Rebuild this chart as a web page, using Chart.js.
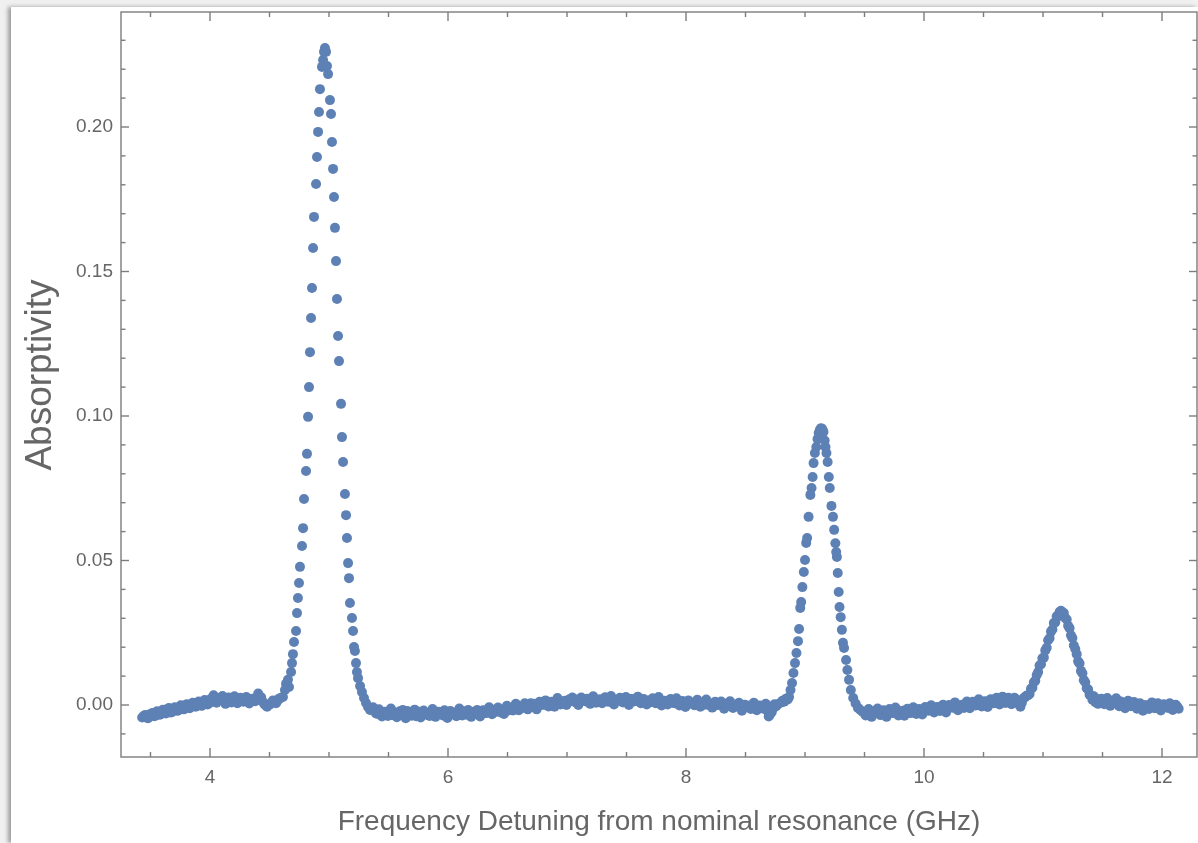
<!DOCTYPE html>
<html>
<head>
<meta charset="utf-8">
<script src="https://cdn.jsdelivr.net/npm/chart.js@4.4.1/dist/chart.umd.min.js"></script>
<style>
  html, body { margin:0; padding:0; width:1198px; height:843px; overflow:hidden; background:#f0f0f0; }
  #panel { position:absolute; left:11px; top:7px; right:0; bottom:0; background:#ffffff;
           box-shadow:-3px 0 4px rgba(0,0,0,0.35); }
  #c { position:absolute; left:0; top:0; }
</style>
</head>
<body>
<div id="panel"></div>
<canvas id="c" width="1198" height="843"></canvas>
<script>
// ---- data: [frequency detuning (GHz), absorptivity] ----
const baselineLow = [
  [3.430,-0.0043],[3.455,-0.0035],[3.480,-0.0046],[3.505,-0.0030],[3.530,-0.0039],[3.555,-0.0022],
  [3.580,-0.0034],[3.605,-0.0016],[3.630,-0.0029],[3.655,-0.0010],[3.680,-0.0025],[3.705,-0.0008],
  [3.730,-0.0020],[3.755,-0.0001],[3.780,-0.0015],[3.805,0.0003],[3.830,-0.0011],[3.855,0.0008],
  [3.880,-0.0006],[3.905,0.0012],[3.930,-0.0003],[3.955,0.0017],[3.980,0.0002],[4.005,0.0021],
  [4.030,0.0034],[4.055,0.0008],[4.080,0.0024],[4.105,0.0031],[4.130,0.0004],[4.155,0.0026],
  [4.180,0.0009],[4.205,0.0030],[4.230,0.0006],[4.255,0.0025],[4.280,0.0011],[4.305,0.0028],
  [4.330,0.0005],[4.355,0.0022],[4.380,0.0013],[4.405,0.0040],[4.430,0.0027],[4.455,0.0004],
  [4.480,-0.0006],[4.505,0.0002],[4.530,0.0016],[4.555,0.0006],[4.580,0.0022]
];
const baselineLowB = [
  [3.4425,-0.0038],[3.4675,-0.0044],[3.4925,-0.0033],[3.5175,-0.0028],[3.5425,-0.0037],[3.5675,-0.0024],
  [3.5925,-0.0029],[3.6175,-0.0020],[3.6425,-0.0017],[3.6675,-0.0026],[3.6925,-0.0013],[3.7175,-0.0019],
  [3.7425,-0.0008],[3.7675,-0.0014],[3.7925,-0.0003],[3.8175,-0.0009],[3.8425,0.0002],[3.8675,-0.0002],
  [3.8925,0.0006],[3.9175,0.0001],[3.9425,0.0009],[3.9675,0.0013],[3.9925,0.0006],[4.0175,0.0012],
  [4.0425,0.0019],[4.0675,0.0014],[4.0925,0.0020],[4.1175,0.0012],[4.1425,0.0021],[4.1675,0.0016],
  [4.1925,0.0013],[4.2175,0.0020],[4.2425,0.0015],[4.2675,0.0021],[4.2925,0.0014],[4.3175,0.0019],
  [4.3425,0.0013],[4.3675,0.0020],[4.3925,0.0026],[4.4175,0.0018],[4.4425,0.0012],[4.4675,-0.0002],
  [4.4925,0.0001],[4.5175,0.0009],[4.5425,0.0013],[4.5675,0.0015],[4.5925,0.0024]
];
const peakMain = [
  [4.613,0.0028],[4.630,0.0052],[4.639,0.0073],[4.655,0.0087],[4.664,0.0062],[4.681,0.0114],
  [4.689,0.0145],[4.697,0.0176],[4.706,0.0218],[4.723,0.0256],[4.731,0.0318],[4.739,0.0370],
  [4.748,0.0422],[4.756,0.0478],[4.773,0.0550],[4.782,0.0612],[4.790,0.0713],[4.807,0.0810],
  [4.815,0.0869],[4.824,0.0997],[4.832,0.1100],[4.840,0.1221],[4.849,0.1339],[4.857,0.1443],
  [4.866,0.1581],[4.874,0.1689],[4.891,0.1803],[4.899,0.1896],[4.908,0.1983],[4.916,0.2052],
  [4.924,0.2131],[4.941,0.2208],[4.950,0.2232],[4.958,0.2260],[4.966,0.2273],[4.975,0.2260],
  [4.983,0.2211],[4.992,0.2183],[5.008,0.2093],[5.017,0.2045],[5.025,0.1948],[5.034,0.1855],
  [5.042,0.1758],[5.050,0.1651],[5.059,0.1536],[5.067,0.1405],[5.076,0.1277],[5.084,0.1190],
  [5.101,0.1042],[5.109,0.0927],[5.118,0.0841],[5.134,0.0730],[5.143,0.0657],[5.151,0.0578],
  [5.160,0.0491],[5.168,0.0439],[5.176,0.0353],[5.193,0.0301],[5.202,0.0256],[5.210,0.0201],
  [5.218,0.0187],[5.227,0.0145],[5.235,0.0114],[5.244,0.0093],[5.261,0.0066],[5.277,0.0045],
  [5.294,0.0024],[5.311,0.0007],[5.328,-0.0007],[5.345,-0.0017]
];
const baselineMid = [
  [5.370,-0.0008],[5.395,-0.0029],[5.420,-0.0015],[5.445,-0.0040],[5.470,-0.0023],[5.495,-0.0038],
  [5.520,-0.0012],[5.545,-0.0031],[5.570,-0.0042],[5.595,-0.0022],[5.620,-0.0017],[5.645,-0.0046],
  [5.670,-0.0024],[5.695,-0.0037],[5.720,-0.0016],[5.745,-0.0033],[5.770,-0.0043],[5.795,-0.0019],
  [5.820,-0.0028],[5.845,-0.0038],[5.870,-0.0014],[5.895,-0.0041],[5.920,-0.0023],[5.945,-0.0032],
  [5.970,-0.0018],[5.995,-0.0045],[6.020,-0.0021],[6.045,-0.0027],[6.070,-0.0039],[6.095,-0.0012],
  [6.120,-0.0036],[6.145,-0.0030],[6.170,-0.0017],[6.195,-0.0041],[6.220,-0.0023],[6.245,-0.0017],
  [6.270,-0.0040],[6.295,-0.0018],[6.320,-0.0028],[6.345,-0.0008],[6.370,-0.0032],[6.395,-0.0017],
  [6.420,-0.0009],[6.445,-0.0026],[6.470,-0.0031],[6.495,-0.0003],[6.520,-0.0014],[6.545,-0.0019],
  [6.570,0.0004],[6.595,-0.0018],[6.620,-0.0010],[6.645,0.0006],[6.670,-0.0015],[6.695,0.0006],
  [6.720,0.0004],[6.745,-0.0015],[6.770,0.0011],[6.795,0.0001],[6.820,0.0016],[6.845,-0.0005],
  [6.870,0.0011],[6.895,-0.0006],[6.920,0.0024],[6.945,0.0002],[6.970,0.0012],[6.995,0.0000],
  [7.020,0.0020],[7.045,0.0026],[7.070,0.0010],[7.095,0.0000],[7.120,0.0026],[7.145,0.0015],
  [7.170,0.0022],[7.195,0.0004],[7.220,0.0030],[7.245,0.0008],[7.270,0.0019],[7.295,0.0006],
  [7.320,0.0027],[7.345,0.0011],[7.370,0.0031],[7.395,0.0002],[7.420,0.0017],[7.445,0.0025],
  [7.470,0.0009],[7.495,0.0028],[7.520,0.0000],[7.545,0.0021],[7.570,0.0013],[7.595,0.0029],
  [7.620,0.0006],[7.645,0.0021],[7.670,0.0002],[7.695,0.0015],[7.720,0.0023],[7.745,0.0006],
  [7.770,0.0028],[7.795,-0.0002],[7.820,0.0015],[7.845,0.0002],[7.870,0.0021],[7.895,0.0007],
  [7.920,0.0023],[7.945,-0.0002],[7.970,0.0014],[7.995,-0.0007],[8.020,0.0016],[8.045,0.0008],
  [8.070,-0.0001],[8.095,0.0018],[8.120,-0.0006],[8.145,0.0008],[8.170,0.0019],[8.195,-0.0001],
  [8.220,-0.0009],[8.245,0.0011],[8.270,0.0001],[8.295,0.0012],[8.320,-0.0013],[8.345,0.0005],
  [8.370,0.0013],[8.395,-0.0010],[8.420,-0.0005],[8.445,0.0008],[8.470,-0.0020],[8.495,0.0001],
  [8.520,-0.0003],[8.545,-0.0014],[8.570,0.0008],[8.595,-0.0018],[8.620,-0.0002],[8.645,-0.0012],
  [8.670,0.0004],[8.695,-0.0040],[8.720,-0.0025],[8.745,0.0003],[8.770,0.0002]
];
const baselineMidB = [
  [5.3825,-0.0021],[5.4075,-0.0030],[5.4325,-0.0024],[5.4575,-0.0033],[5.4825,-0.0028],[5.5075,-0.0022],
  [5.5325,-0.0035],[5.5575,-0.0026],[5.5825,-0.0031],[5.6075,-0.0027],[5.6325,-0.0034],[5.6575,-0.0021],
  [5.6825,-0.0030],[5.7075,-0.0026],[5.7325,-0.0039],[5.7575,-0.0023],[5.7825,-0.0032],[5.8075,-0.0025],
  [5.8325,-0.0035],[5.8575,-0.0029],[5.8825,-0.0022],[5.9075,-0.0031],[5.9325,-0.0027],[5.9575,-0.0036],
  [5.9825,-0.0024],[6.0075,-0.0031],[6.0325,-0.0026],[6.0575,-0.0033],[6.0825,-0.0025],[6.1075,-0.0030],
  [6.1325,-0.0022],[6.1575,-0.0034],[6.1825,-0.0028],[6.2075,-0.0031],[6.2325,-0.0024],[6.2575,-0.0029],
  [6.2825,-0.0021],[6.3075,-0.0027],[6.3325,-0.0019],[6.3575,-0.0025],[6.3825,-0.0016],[6.4075,-0.0023],
  [6.4325,-0.0015],[6.4575,-0.0020],[6.4825,-0.0012],[6.5075,-0.0019],[6.5325,-0.0010],[6.5575,-0.0016],
  [6.5825,-0.0007],[6.6075,-0.0012],[6.6325,-0.0004],[6.6575,-0.0009],[6.6825,0.0000],[6.7075,-0.0005],
  [6.7325,0.0002],[6.7575,-0.0003],[6.7825,0.0005],[6.8075,0.0001],[6.8325,0.0008],[6.8575,0.0003],
  [6.8825,0.0010],[6.9075,0.0004],[6.9325,0.0012],[6.9575,0.0007],[6.9825,0.0015],[7.0075,0.0009],
  [7.0325,0.0016],[7.0575,0.0012],[7.0825,0.0019],[7.1075,0.0013],[7.1325,0.0020],[7.1575,0.0012],
  [7.1825,0.0018],[7.2075,0.0014],[7.2325,0.0021],[7.2575,0.0013],[7.2825,0.0019],[7.3075,0.0015],
  [7.3325,0.0022],[7.3575,0.0012],[7.3825,0.0018],[7.4075,0.0014],[7.4325,0.0020],[7.4575,0.0013],
  [7.4825,0.0019],[7.5075,0.0015],[7.5325,0.0021],[7.5575,0.0012],[7.5825,0.0017],[7.6075,0.0014],
  [7.6325,0.0019],[7.6575,0.0011],[7.6825,0.0016],[7.7075,0.0010],[7.7325,0.0015],[7.7575,0.0009],
  [7.7825,0.0014],[7.8075,0.0008],[7.8325,0.0013],[7.8575,0.0007],[7.8825,0.0012],[7.9075,0.0006],
  [7.9325,0.0011],[7.9575,0.0005],[7.9825,0.0010],[8.0075,0.0004],[8.0325,0.0009],[8.0575,0.0003],
  [8.0825,0.0008],[8.1075,0.0002],[8.1325,0.0007],[8.1575,0.0001],[8.1825,0.0006],[8.2075,0.0000],
  [8.2325,0.0005],[8.2575,-0.0001],[8.2825,0.0004],[8.3075,-0.0002],[8.3325,0.0003],[8.3575,-0.0003],
  [8.3825,0.0002],[8.4075,-0.0004],[8.4325,0.0000],[8.4575,-0.0006],[8.4825,-0.0002],[8.5075,-0.0007],
  [8.5325,-0.0003],[8.5575,-0.0009],[8.5825,-0.0004],[8.6075,-0.0010],[8.6325,-0.0005],[8.6575,-0.0011],
  [8.6825,-0.0020],[8.7075,-0.0032],[8.7325,-0.0012],[8.7575,-0.0004]
];
const peakSecond = [
  [8.795,0.0008],[8.810,0.0015],[8.825,0.0011],[8.840,0.0022],[8.855,0.0019],[8.866,0.0028],
  [8.878,0.0052],[8.891,0.0076],[8.903,0.0111],[8.916,0.0145],[8.928,0.0180],[8.941,0.0221],
  [8.950,0.0263],[8.960,0.0336],[8.968,0.0356],[8.978,0.0408],[8.990,0.0460],[9.000,0.0502],
  [9.010,0.0561],[9.018,0.0578],[9.030,0.0651],[9.045,0.0727],[9.055,0.0751],[9.064,0.0789],
  [9.072,0.0837],[9.083,0.0872],[9.095,0.0893],[9.105,0.0920],[9.115,0.0941],[9.125,0.0952],
  [9.135,0.0958],[9.145,0.0955],[9.155,0.0945],[9.165,0.0915],[9.172,0.0893],[9.180,0.0872],
  [9.190,0.0841],[9.200,0.0789],[9.208,0.0751],[9.222,0.0689],[9.235,0.0651],[9.245,0.0606],
  [9.255,0.0560],[9.262,0.0529],[9.268,0.0512],[9.275,0.0457],[9.283,0.0391],[9.290,0.0339],
  [9.300,0.0304],[9.310,0.0260],[9.319,0.0215],[9.328,0.0197],[9.345,0.0156],[9.356,0.0121],
  [9.370,0.0087],[9.385,0.0052],[9.405,0.0024],[9.425,0.0005],[9.445,-0.0010],[9.465,-0.0017],
  [9.485,-0.0024]
];
const baselineHigh = [
  [9.510,-0.0036],[9.535,-0.0014],[9.560,-0.0041],[9.585,-0.0022],[9.610,-0.0012],[9.635,-0.0035],
  [9.660,-0.0018],[9.685,-0.0041],[9.710,-0.0014],[9.735,-0.0028],[9.760,-0.0009],[9.785,-0.0036],
  [9.810,-0.0021],[9.835,-0.0037],[9.860,-0.0013],[9.885,-0.0028],[9.910,-0.0008],[9.935,-0.0031],
  [9.960,-0.0014],[9.985,-0.0033],[10.010,-0.0007],[10.035,-0.0020],[10.060,-0.0001],[10.085,-0.0026],
  [10.110,-0.0007],[10.135,-0.0021],[10.160,0.0001],[10.185,-0.0026],[10.210,0.0000],[10.235,-0.0009],
  [10.260,0.0009],[10.285,-0.0018],[10.310,-0.0001],[10.335,-0.0010],[10.360,0.0012],[10.385,-0.0011],
  [10.410,0.0011],[10.435,-0.0002],[10.460,0.0020],[10.485,-0.0005],[10.510,0.0013],[10.535,-0.0007],
  [10.560,0.0020],[10.585,0.0006],[10.610,0.0025],[10.635,0.0002],[10.660,0.0029],[10.685,0.0007],
  [10.710,0.0025],[10.735,0.0003],[10.760,0.0025],[10.785,0.0013],[10.810,-0.0006],[10.835,0.0023],
  [10.860,0.0032]
];
const baselineHighB = [
  [9.4975,-0.0026],[9.5225,-0.0029],[9.5475,-0.0023],[9.5725,-0.0031],[9.5975,-0.0025],[9.6225,-0.0028],
  [9.6475,-0.0022],[9.6725,-0.0030],[9.6975,-0.0024],[9.7225,-0.0021],[9.7475,-0.0027],[9.7725,-0.0019],
  [9.7975,-0.0026],[9.8225,-0.0020],[9.8475,-0.0028],[9.8725,-0.0018],[9.8975,-0.0024],[9.9225,-0.0016],
  [9.9475,-0.0022],[9.9725,-0.0017],[9.9975,-0.0021],[10.0225,-0.0013],[10.0475,-0.0018],[10.0725,-0.0011],
  [10.0975,-0.0016],[10.1225,-0.0009],[10.1475,-0.0014],[10.1725,-0.0006],[10.1975,-0.0012],[10.2225,-0.0004],
  [10.2475,-0.0009],[10.2725,-0.0002],[10.2975,-0.0007],[10.3225,0.0001],[10.3475,-0.0004],[10.3725,0.0004],
  [10.3975,-0.0001],[10.4225,0.0006],[10.4475,0.0001],[10.4725,0.0008],[10.4975,0.0004],[10.5225,0.0011],
  [10.5475,0.0006],[10.5725,0.0013],[10.5975,0.0008],[10.6225,0.0014],[10.6475,0.0010],[10.6725,0.0017],
  [10.6975,0.0012],[10.7225,0.0018],[10.7475,0.0013],[10.7725,0.0019],[10.7975,0.0004],[10.8225,0.0008],
  [10.8475,0.0026]
];
const peakThird = [
  [10.875,0.0034],[10.887,0.0038],[10.899,0.0056],[10.911,0.0060],[10.923,0.0079],[10.935,0.0084],
  [10.947,0.0104],[10.959,0.0114],[10.971,0.0137],[10.983,0.0141],[10.995,0.0162],[11.007,0.0164],
  [11.019,0.0189],[11.031,0.0198],[11.043,0.0224],[11.055,0.0231],[11.067,0.0254],[11.079,0.0261],
  [11.091,0.0284],[11.103,0.0286],[11.115,0.0307],[11.127,0.0306],[11.139,0.0322],[11.151,0.0326],
  [11.163,0.0320],[11.175,0.0318],[11.187,0.0301],[11.199,0.0296],[11.211,0.0274],[11.223,0.0266],
  [11.235,0.0241],[11.247,0.0232],[11.259,0.0206],[11.271,0.0194],[11.283,0.0176],[11.295,0.0151],
  [11.307,0.0144],[11.319,0.0118],[11.331,0.0110],[11.343,0.0086],[11.355,0.0079],[11.367,0.0058],
  [11.379,0.0054],[11.391,0.0036],[11.403,0.0034],[11.415,0.0018],[11.427,0.0030],[11.439,0.0010],
  [11.451,0.0020],[11.463,0.0004],[11.475,0.0014]
];
const baselineEnd = [
  [11.490,0.0022],[11.515,0.0003],[11.540,0.0024],[11.565,-0.0003],[11.590,0.0014],[11.615,0.0023],
  [11.640,-0.0004],[11.665,0.0009],[11.690,-0.0011],[11.715,0.0015],[11.740,-0.0004],[11.765,0.0010],
  [11.790,-0.0013],[11.815,0.0006],[11.840,-0.0020],[11.865,-0.0001],[11.890,-0.0014],[11.915,0.0009],
  [11.940,-0.0011],[11.965,0.0006],[11.990,-0.0019],[12.015,0.0003],[12.040,-0.0008],[12.065,0.0006],
  [12.090,-0.0017],[12.115,0.0001],[12.140,-0.0013]
];
const baselineEndB = [
  [11.5025,0.0013],[11.5275,0.0009],[11.5525,0.0016],[11.5775,0.0006],[11.6025,0.0010],[11.6275,0.0004],
  [11.6525,0.0012],[11.6775,0.0002],[11.7025,0.0007],[11.7275,0.0000],[11.7525,0.0005],[11.7775,-0.0003],
  [11.8025,0.0002],[11.8275,-0.0006],[11.8525,-0.0001],[11.8775,-0.0008],[11.9025,-0.0003],[11.9275,-0.0001],
  [11.9525,-0.0007],[11.9775,-0.0002],[12.0025,-0.0009],[12.0275,-0.0003],[12.0525,-0.0010],[12.0775,-0.0004],
  [12.1025,-0.0008],[12.1275,-0.0005]
];

// ---- axes ----
const xTickValues = [4, 6, 8, 10, 12];
const xTickLabels = ['4', '6', '8', '10', '12'];
const xMinorTicks = [3.5,4,4.5,5,5.5,6,6.5,7,7.5,8,8.5,9,9.5,10,10.5,11,11.5,12];
const yTickValues = [0, 0.05, 0.10, 0.15, 0.20];
const yTickLabels = ['0.00', '0.05', '0.10', '0.15', '0.20'];
const yMinorTicks = [-0.01,0,0.01,0.02,0.03,0.04,0.05,0.06,0.07,0.08,0.09,0.10,0.11,0.12,
                     0.13,0.14,0.15,0.16,0.17,0.18,0.19,0.20,0.21,0.22,0.23];
const xTitle = 'Frequency Detuning from nominal resonance (GHz)';
const yTitle = 'Absorptivity';

const FONT = '"Liberation Sans", Arial, Helvetica, sans-serif';
const TEXT = '#666666';
const FRAME = '#7d7d7d';

const points = [].concat(baselineLow, baselineLowB, peakMain, baselineMid, baselineMidB, peakSecond,
                         baselineHigh, baselineHighB, peakThird, baselineEnd, baselineEndB)
  .map(p => ({ x: p[0], y: p[1] }));

const framePlugin = {
  id: 'mmaFrame',
  afterDraw(chart) {
    const { ctx, chartArea: { left, right, top, bottom }, scales: { x, y } } = chart;
    ctx.save();
    ctx.strokeStyle = FRAME;
    ctx.lineWidth = 1.4;
    ctx.strokeRect(left, top, right - left, bottom - top);
    const seg = (x1, y1, x2, y2) => { ctx.beginPath(); ctx.moveTo(x1, y1); ctx.lineTo(x2, y2); ctx.stroke(); };
    xMinorTicks.forEach(v => {
      const p = x.getPixelForValue(v);
      const L = xTickValues.includes(v) ? 9 : 5;
      seg(p, bottom, p, bottom - L);
      seg(p, top, p, top + L);
    });
    yMinorTicks.forEach(v => {
      const p = y.getPixelForValue(v);
      const L = yTickValues.some(t => Math.abs(t - v) < 1e-9) ? 8 : 4.5;
      seg(left, p, left + L, p);
      seg(right, p, right - L, p);
    });
    // vertical axis title
    ctx.fillStyle = TEXT;
    ctx.font = '37px ' + FONT;
    ctx.textAlign = 'center';
    ctx.textBaseline = 'middle';
    ctx.translate(41, (top + bottom) / 2 - 9.5);
    ctx.rotate(-Math.PI / 2);
    ctx.fillText(yTitle, 0, 0);
    ctx.restore();
  }
};

new Chart(document.getElementById('c'), {
  type: 'scatter',
  data: {
    datasets: [{
      data: points,
      backgroundColor: '#5e81b5',
      borderWidth: 0,
      pointRadius: 5,
      pointHoverRadius: 5
    }]
  },
  options: {
    responsive: false,
    animation: false,
    devicePixelRatio: 1,
    events: [],
    layout: { autoPadding: false, padding: { top: 12, right: 1, left: 0, bottom: 0 } },
    plugins: { legend: { display: false }, tooltip: { enabled: false } },
    scales: {
      x: {
        type: 'linear',
        min: 3.2521,
        max: 12.294,
        afterBuildTicks: s => { s.ticks = xTickValues.map(v => ({ value: v })); },
        afterFit: s => { s.height = 86; s.paddingLeft = 0; s.paddingRight = 0; },
        grid: { display: false, drawTicks: false },
        border: { display: false },
        ticks: {
          padding: 9,
          color: TEXT,
          font: { size: 19, family: FONT },
          maxRotation: 0,
          callback: v => xTickLabels[xTickValues.indexOf(v)]
        },
        title: {
          display: true,
          text: xTitle,
          color: TEXT,
          font: { size: 28, family: FONT },
          padding: { top: 0, bottom: 4 }
        }
      },
      y: {
        type: 'linear',
        min: -0.01799,
        max: 0.23979,
        afterBuildTicks: s => { s.ticks = yTickValues.map(v => ({ value: v })); },
        afterFit: s => { s.width = 121; s.paddingTop = 0; s.paddingBottom = 0; },
        grid: { display: false, drawTicks: false },
        border: { display: false },
        ticks: {
          padding: 8,
          color: TEXT,
          font: { size: 19, family: FONT },
          callback: v => yTickLabels[yTickValues.indexOf(v)]
        }
      }
    }
  },
  plugins: [framePlugin]
});
</script>
</body>
</html>
